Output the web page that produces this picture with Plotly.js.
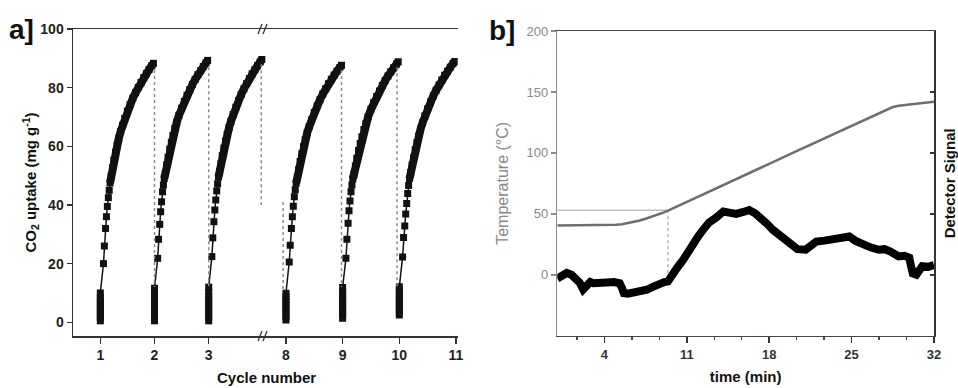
<!DOCTYPE html>
<html>
<head>
<meta charset="utf-8">
<script src="https://cdn.plot.ly/plotly-3.0.1.min.js"></script>
<style>html,body{margin:0;padding:0;background:#fff;}#chart{width:958px;height:388px;}</style>
</head>
<body>
<div id="chart"></div>
<script>
// ---------- Panel a: CO2 uptake cycles ----------
const cycleStart = [1, 2, 3, 8, 9, 10];
// offset within a cycle (fraction of one cycle) of each logged point
const uptakeOffset = [0,0,0,0,0,0,0,0,0,0,
  0.058,0.075,0.096,0.113,0.13,0.148,0.164,0.18,
  0.2,0.225,0.25,0.28,0.31,0.34,0.375,0.41,0.45,0.5,0.55,0.6,0.65,0.7,0.75,0.8,0.85,0.9,0.95,0.98];
const uptakeC1 = [0.5,1.5,2.5,3.5,4.5,5.5,6.5,7.5,8.5,10,
  20,26,32,36,39.5,42.5,45,47.5,
  49.9,52.7,55.3,58.0,60.4,62.7,65.1,67.2,69.5,72.0,74.3,76.4,78.3,80.1,81.8,83.4,84.8,86.2,87.5,88.3];
const uptakeC2 = [0.5,1.7,2.9,4.1,5.3,6.5,7.7,8.9,10.1,11.6,
  21.8,28.3,33.4,37.7,41.1,44.5,46.8,49,
  50.9,53.7,56.3,59.0,61.4,63.7,66.1,68.2,70.5,73.0,75.3,77.4,79.3,81.1,82.8,84.4,85.8,87.2,88.5,89.3];
const uptakeC3 = [0.5,1.7,2.9,4.1,5.3,6.5,7.7,8.9,10.3,12,
  22.4,28.8,34.3,38.3,41.7,44.8,47.2,49.5,
  51.5,54.2,56.8,59.4,61.8,64.0,66.4,68.5,70.8,73.3,75.6,77.7,79.6,81.4,83.1,84.7,86.1,87.5,88.8,89.6];
const uptakeC8 = [0.8,1.8,2.8,3.8,4.8,5.8,6.8,7.8,8.8,9.9,
  20.6,26.3,32,36,39.6,42.8,45.2,47.4,
  49.5,52.2,54.8,57.5,59.9,62.2,64.6,66.7,69.0,71.5,73.8,75.9,77.8,79.6,81.3,82.9,84.3,85.6,86.9,87.6];
const uptakeC9 = [1.4,2.5,3.6,4.7,5.8,6.9,8,9.1,10.3,11.9,
  21.8,28.3,33.8,38,41.4,44.5,46.8,48.9,
  50.6,53.3,55.9,58.6,61.0,63.3,65.7,67.8,70.1,72.6,74.9,77.0,78.9,80.7,82.4,84.0,85.4,86.8,88.1,88.8];
const uptakeC10 = [2.5,3.5,4.6,5.6,6.7,7.7,8.8,9.8,10.9,12.1,
  22.3,28.9,32.8,36.9,40.5,43.9,46.6,49,
  51.0,53.6,56.1,58.8,61.2,63.5,65.9,68.0,70.3,72.8,75.1,77.2,79.1,80.9,82.6,84.2,85.6,87.0,88.3,88.9];
const uptakeSeries = [uptakeC1, uptakeC2, uptakeC3, uptakeC8, uptakeC9, uptakeC10];
const denseFrom = 17; // index where logged points merge into a continuous band
// regeneration drops (dotted)
const dropX = [2.0, 3.0, 3.97, 7.95, 8.98, 9.96];
const dropHigh = [86, 87, 88, 41, 86, 87];
const dropLow = [12, 12, 40, 11, 12, 12];
const cycleTicksLeft = [1, 2, 3];
const cycleTicksRight = [8, 9, 10, 11];
const uptakeTicks = [0, 20, 40, 60, 80, 100];

// ---------- Panel b: TPD ----------
const tempTime = [0,1,2,3,4,5,5.5,6,6.5,7,7.5,8,8.5,9,9.5,10,11,12,14,16,18,20,22,24,26,27,28,28.5,29,30,31,32];
const tempValue = [40.5,40.5,40.5,40.5,40.6,41,41.5,42.3,43.3,44.5,46,47.5,49.2,51,53,55.2,59.6,64.1,73.1,82,91,100,109,118,127,131.4,135.8,137.6,138.6,139.8,141,142];
const sigTime = [0,0.4,0.8,1.2,1.5,1.9,2.2,2.5,2.8,3.05,3.6,4.2,4.8,5.3,5.5,5.65,6.0,6.45,7.0,7.6,8.2,8.7,9.1,9.4,9.8,10.2,10.7,11.1,11.5,12.0,12.4,12.9,13.5,14.1,14.6,15.2,15.8,16.3,16.8,17.2,17.8,18.3,18.9,19.4,19.9,20.4,21.1,21.5,22.0,22.7,23.4,24.1,24.8,25.3,25.9,26.6,27.3,27.8,28.3,28.6,29.0,29.5,29.9,30.05,30.2,30.5,30.8,31.0,31.5,32];
const sigValue = [-3,-1,1.5,0,-2.5,-6.5,-12,-8,-6,-7,-6,-6.3,-6,-7,-11,-15,-15.5,-15,-14,-12.3,-9.5,-7,-6,-5.5,1.4,6,12.3,19,26,32,37,43,47,51.9,51,50,51.5,53,50.5,47.8,42,37,32,27.3,24,21,20.5,24,27.3,28,28.7,30,31.4,28,24.6,22.5,20.5,21,19.1,17,15,15.5,14,7,1,0,4,7,6.5,8];
const markTime = 9.4, markTemp = 53, markSignal = -5;
const timeTick0 = 4, timeStep = 7;
const tempTicks = [0, 50, 100, 150, 200];

const FONT = "'Liberation Sans', Arial, Helvetica, sans-serif";
const traces = [];

uptakeSeries.forEach((ys, i) => {
  const c = cycleStart[i];
  const xs = uptakeOffset.map(o => c + o);
  const xa = c < 5 ? 'x' : 'x2';
  traces.push({x: xs, y: ys, xaxis: xa, yaxis: 'y', mode: 'lines+markers', showlegend: false,
    line: {color: '#111', width: 1.5},
    marker: {symbol: 'square', size: 7, color: '#111'}});
  traces.push({x: xs.slice(denseFrom), y: ys.slice(denseFrom), xaxis: xa, yaxis: 'y', mode: 'lines', showlegend: false,
    line: {color: '#111', width: 8}});
});
dropX.forEach((dx, i) => {
  traces.push({x: [dx, dx], y: [dropHigh[i], dropLow[i]], xaxis: dx < 5 ? 'x' : 'x2', yaxis: 'y',
    mode: 'lines', showlegend: false, line: {color: '#8a8a8a', width: 1.5, dash: 'dot'}});
});

// panel b
traces.push({x: [0, markTime], y: [markTemp, markTemp], xaxis: 'x3', yaxis: 'y3', mode: 'lines', showlegend: false,
  line: {color: '#a0a0a0', width: 1}});
traces.push({x: [markTime, markTime], y: [markTemp, markSignal], xaxis: 'x3', yaxis: 'y3', mode: 'lines', showlegend: false,
  line: {color: '#909090', width: 1, dash: 'dot'}});
traces.push({x: tempTime, y: tempValue, xaxis: 'x3', yaxis: 'y3', mode: 'lines', showlegend: false,
  line: {color: '#6e6e6e', width: 2.5}});
traces.push({x: sigTime, y: sigValue, xaxis: 'x3', yaxis: 'y4', mode: 'lines', showlegend: false,
  line: {color: '#000', width: 8, shape: 'linear'}});

const W = 958, H = 388;
const px = v => v / W, py = v => 1 - v / H;
const aL = 73, aBreak = 266, aR = 457.7, aT = 29, aB = 336;
const bL = 557.3, bR = 934, bT = 31, bB = 335.7;

const boldTick = {family: FONT, size: 14, color: '#222', weight: 700};
const baseAxis = {showgrid: false, zeroline: false, showline: true, linecolor: '#333', linewidth: 1.5,
  ticks: 'outside', tickcolor: '#333', tickwidth: 1.5, fixedrange: true};

const shapes = [];
[aT, aB].forEach(yy => {
  [[-5, 0], [0, 5]].forEach(([a]) => {
    shapes.push({type: 'line', xref: 'paper', yref: 'paper',
      x0: px(aBreak + a - 3), y0: py(yy + 5), x1: px(aBreak + a + 1), y1: py(yy - 5),
      line: {color: '#333', width: 1.3}});
  });
});

const layout = {
  width: W, height: H, margin: {l: 0, r: 0, t: 0, b: 0},
  paper_bgcolor: '#fff', plot_bgcolor: 'rgba(0,0,0,0)',
  font: {family: FONT, color: '#222'},
  xaxis: Object.assign({}, baseAxis, {domain: [px(aL), px(aBreak)], range: [0.496, 4.057], anchor: 'y',
    tickmode: 'array', tickvals: cycleTicksLeft, ticklen: 6, mirror: true, tickfont: boldTick}),
  xaxis2: Object.assign({}, baseAxis, {domain: [px(aBreak), px(aR)], range: [7.648, 11.03], anchor: 'y',
    tickmode: 'array', tickvals: cycleTicksRight, ticklen: 6, mirror: true, tickfont: boldTick}),
  yaxis: Object.assign({}, baseAxis, {domain: [py(aB), py(aT)], range: [-4.67, 100], anchor: 'x',
    tickmode: 'array', tickvals: uptakeTicks, ticklen: 5, tickfont: boldTick,
    title: {text: 'CO<sub>2</sub> uptake (mg g<sup>-1</sup>)', standoff: 0,
      font: {family: FONT, size: 15, color: '#111', weight: 700}}}),
  yaxis2: Object.assign({}, baseAxis, {domain: [py(aB), py(aT)], range: [-4.67, 100], anchor: 'x2', overlaying: 'y',
    side: 'right', ticks: '', showticklabels: false}),
  xaxis3: Object.assign({}, baseAxis, {domain: [px(bL), px(bR)], range: [0, 32], anchor: 'y3',
    tickmode: 'linear', tick0: timeTick0, dtick: timeStep, ticklen: 6, mirror: true, linecolor: '#444',
    tickfont: {family: FONT, size: 13, color: '#333', weight: 700},
    minor: {ticks: 'outside', ticklen: 3, tickcolor: '#444', tick0: timeTick0, dtick: timeStep / 3},
    title: {text: 'time (min)', standoff: 10, font: {family: FONT, size: 15, color: '#111', weight: 700}}}),
  yaxis3: Object.assign({}, baseAxis, {domain: [py(bB), py(bT)], range: [-50, 200], anchor: 'x3',
    tickmode: 'array', tickvals: tempTicks, ticklen: 5, linecolor: '#8a8a8a', tickcolor: '#8a8a8a',
    tickfont: {family: FONT, size: 13, color: '#888'},
    title: {text: 'Temperature (°C)', standoff: 14, font: {family: FONT, size: 16, color: '#888'}}}),
  yaxis4: Object.assign({}, baseAxis, {domain: [py(bB), py(bT)], range: [-50, 200], anchor: 'x3', overlaying: 'y3',
    side: 'right', tickmode: 'array', tickvals: tempTicks, ticks: 'inside', ticklen: 4, showticklabels: false,
    linecolor: '#333',
    title: {text: 'Detector Signal', standoff: 10, font: {family: FONT, size: 15, color: '#111', weight: 700}}}),
  shapes: shapes,
  annotations: [
    {text: 'a]', xref: 'paper', yref: 'paper', x: px(21), y: py(30), xanchor: 'center', yanchor: 'middle',
      showarrow: false, font: {family: FONT, size: 28, color: '#111', weight: 700}},
    {text: 'b]', xref: 'paper', yref: 'paper', x: px(502), y: py(31), xanchor: 'center', yanchor: 'middle',
      showarrow: false, font: {family: FONT, size: 28, color: '#111', weight: 700}},
    {text: 'Cycle number', xref: 'paper', yref: 'paper', x: px(266), y: py(377), xanchor: 'center', yanchor: 'middle',
      showarrow: false, font: {family: FONT, size: 15, color: '#111', weight: 700}}
  ]
};

Plotly.newPlot('chart', traces, layout, {displayModeBar: false, staticPlot: true});
</script>
</body>
</html>
